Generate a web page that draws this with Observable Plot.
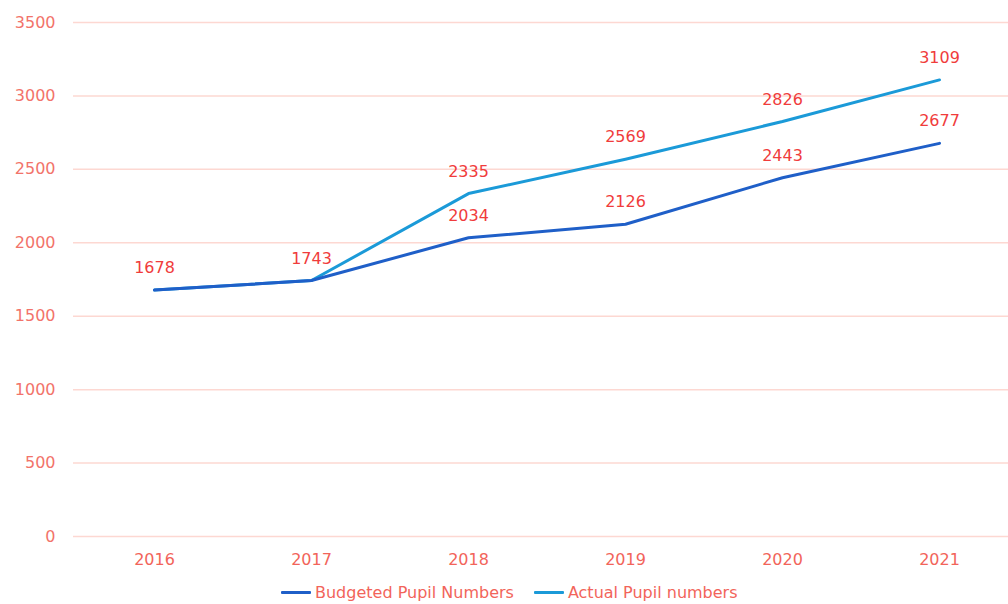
<!DOCTYPE html>
<html>
<head>
<meta charset="utf-8">
<script src="https://cdn.jsdelivr.net/npm/d3@7"></script>
<script src="https://cdn.jsdelivr.net/npm/@observablehq/plot@0.6"></script>
<style>
  html, body { margin: 0; padding: 0; background: #fff; overflow: hidden; }
  body { width: 1008px; height: 604px; font-family: "DejaVu Sans", sans-serif; }
  #legend { display: flex; align-items: center; margin-left: 281px; margin-top: -2px; height: 19px; line-height: 19px; font-size: 16px; color: #f2645a; }
  .item { display: flex; align-items: center; margin-right: 20px; }
  .sw { width: 30px; height: 3px; margin-right: 4px; border-radius: 1px; }
</style>
</head>
<body>
<div id="chart"></div>
<div id="legend"></div>
<script>
const years = ["2016", "2017", "2018", "2019", "2020", "2021"];
const budgeted = [1678, 1743, 2034, 2126, 2443, 2677];
const actual = [1678, 1743, 2335, 2569, 2826, 3109];
const yTicks = [0, 500, 1000, 1500, 2000, 2500, 3000, 3500];
const seriesNames = ["Budgeted Pupil Numbers", "Actual Pupil numbers"];
const seriesColors = ["#1f5fc8", "#1b9ad8"];

const budRows = years.map((y, i) => ({year: y, value: budgeted[i]}));
const actRows = years.map((y, i) => ({year: y, value: actual[i], same: actual[i] === budgeted[i]}));

const chart = Plot.plot({
  width: 1008,
  height: 585,
  marginTop: 22,
  marginBottom: 49,
  marginLeft: 73,
  marginRight: 0,
  style: {fontFamily: "DejaVu Sans, sans-serif", fontSize: "16px", background: "#fff"},
  x: {type: "point", domain: years, range: [153, 940], padding: 0, label: null},
  y: {domain: [0, 3500], label: null},
  marks: [
    Plot.ruleY(yTicks, {stroke: "#fdd8d2", strokeWidth: 1.5}),
    Plot.axisX({tickSize: 0, tickPadding: 17, color: "#f2645a", fontSize: 16}),
    Plot.axisY({ticks: yTicks, tickFormat: d => String(d), tickSize: 0, tickPadding: 18, color: "#f2736a", fontSize: 16}),
    Plot.line(actRows, {x: "year", y: "value", stroke: seriesColors[1], strokeWidth: 3}),
    Plot.line(budRows, {x: "year", y: "value", stroke: seriesColors[0], strokeWidth: 3}),
    Plot.text(budRows, {x: "year", y: "value", text: d => String(d.value), dy: -22, fill: "#f03c3c", fontSize: 16}),
    Plot.text(actRows.filter(d => !d.same), {x: "year", y: "value", text: d => String(d.value), dy: -22, fill: "#f03c3c", fontSize: 16})
  ]
});
document.getElementById("chart").appendChild(chart);

const legend = document.getElementById("legend");
seriesNames.forEach((name, i) => {
  const it = document.createElement("div");
  it.className = "item";
  const sw = document.createElement("span");
  sw.className = "sw";
  sw.style.background = seriesColors[i];
  const tx = document.createElement("span");
  tx.textContent = name;
  it.appendChild(sw);
  it.appendChild(tx);
  legend.appendChild(it);
});
</script>
</body>
</html>
